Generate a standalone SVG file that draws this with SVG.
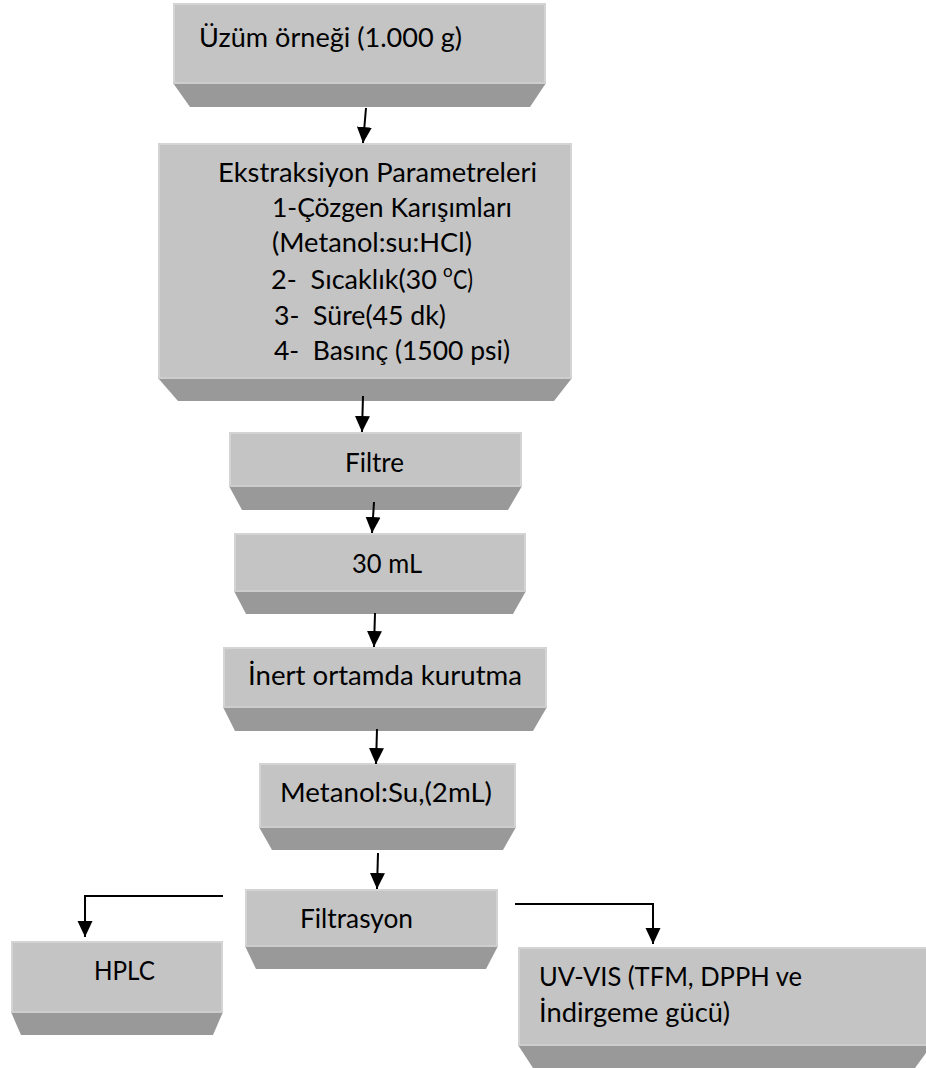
<svg xmlns="http://www.w3.org/2000/svg" width="926" height="1068" viewBox="0 0 926 1068">
<style>
.face{fill:#c4c4c4}
.bevel{fill:#999999}
.hl{fill:none;stroke:#d4d4d4;stroke-width:2}
.sep{stroke:#cdcdcd;stroke-width:2}
text{font-family:Lato,"Open Sans","Liberation Sans",sans-serif;font-size:27.5px;fill:#000000}
.con{fill:none;stroke:#000000;stroke-width:2}
</style>
<defs>
<marker id="ah" markerUnits="userSpaceOnUse" markerWidth="16" markerHeight="17" refX="16" refY="7.5" orient="auto" viewBox="0 0 16 15">
<path d="M0,0 L16,7.5 L0,15 Z" fill="#000000"/>
</marker>
</defs>
<rect width="926" height="1068" fill="#ffffff"/>

<g id="n1">
<polygon class="bevel" points="173,83 546,83 530,107 190,107"/>
<rect class="face" x="173" y="3" width="373" height="80"/>
<polyline class="hl" points="174,83 174,4 545,4 545,83"/>
<line class="sep" x1="173" y1="83" x2="546" y2="83"/>
<text x="199" y="47" textLength="263" lengthAdjust="spacingAndGlyphs">Üzüm örneği (1.000 g)</text>
</g>

<g id="n2">
<polygon class="bevel" points="158,378 572,378 554,401 178,401"/>
<rect class="face" x="158" y="143" width="414" height="235"/>
<polyline class="hl" points="159,378 159,144 571,144 571,378"/>
<line class="sep" x1="158" y1="378" x2="572" y2="378"/>
<text x="218" y="182" textLength="319" lengthAdjust="spacingAndGlyphs">Ekstraksiyon Parametreleri</text>
<text x="272" y="217" textLength="240" lengthAdjust="spacingAndGlyphs">1-Çözgen Karışımları</text>
<text x="272" y="252" textLength="200" lengthAdjust="spacingAndGlyphs">(Metanol:su:HCl)</text>
<text x="271" y="289" textLength="166" lengthAdjust="spacingAndGlyphs" xml:space="preserve">2-  Sıcaklık(30</text>
<text x="443" y="277" style="font-size:17px">o</text>
<text x="453" y="289" textLength="20" lengthAdjust="spacingAndGlyphs">C)</text>
<text x="274" y="325" textLength="172" lengthAdjust="spacingAndGlyphs" xml:space="preserve">3-  Süre(45 dk)</text>
<text x="274" y="360" textLength="236" lengthAdjust="spacingAndGlyphs" xml:space="preserve">4-  Basınç (1500 psi)</text>
</g>

<g id="n3">
<polygon class="bevel" points="229,486 522,486 508,510 242,510"/>
<rect class="face" x="229" y="432" width="293" height="54"/>
<polyline class="hl" points="230,486 230,433 521,433 521,486"/>
<line class="sep" x1="229" y1="486" x2="522" y2="486"/>
<text x="345" y="472" textLength="59" lengthAdjust="spacingAndGlyphs">Filtre</text>
</g>

<g id="n4">
<polygon class="bevel" points="234,591 526,591 513,614 246,614"/>
<rect class="face" x="234" y="533" width="292" height="58"/>
<polyline class="hl" points="235,591 235,534 525,534 525,591"/>
<line class="sep" x1="234" y1="591" x2="526" y2="591"/>
<text x="352" y="573" textLength="70" lengthAdjust="spacingAndGlyphs">30 mL</text>
</g>

<g id="n5">
<polygon class="bevel" points="223,707 547,707 533,731 235,731"/>
<rect class="face" x="223" y="647" width="324" height="60"/>
<polyline class="hl" points="224,707 224,648 546,648 546,707"/>
<line class="sep" x1="223" y1="707" x2="547" y2="707"/>
<text x="248" y="685" textLength="274" lengthAdjust="spacingAndGlyphs">İnert ortamda kurutma</text>
</g>

<g id="n6">
<polygon class="bevel" points="259,827 516,827 503,850 272,850"/>
<rect class="face" x="259" y="763" width="257" height="64"/>
<polyline class="hl" points="260,827 260,764 515,764 515,827"/>
<line class="sep" x1="259" y1="827" x2="516" y2="827"/>
<text x="280" y="802" textLength="212" lengthAdjust="spacingAndGlyphs">Metanol:Su,(2mL)</text>
</g>

<g id="n7">
<polygon class="bevel" points="245,946 498,946 486,969 256,969"/>
<rect class="face" x="245" y="889" width="253" height="57"/>
<polyline class="hl" points="246,946 246,890 497,890 497,946"/>
<line class="sep" x1="245" y1="946" x2="498" y2="946"/>
<text x="300" y="928" textLength="113" lengthAdjust="spacingAndGlyphs">Filtrasyon</text>
</g>

<g id="n8">
<polygon class="bevel" points="11,1012 223,1012 213,1035 21,1035"/>
<rect class="face" x="11" y="941" width="212" height="71"/>
<polyline class="hl" points="12,1012 12,942 222,942 222,1012"/>
<line class="sep" x1="11" y1="1012" x2="223" y2="1012"/>
<text x="94" y="980" textLength="61" lengthAdjust="spacingAndGlyphs">HPLC</text>
</g>

<g id="n9">
<polygon class="bevel" points="518,1045 932,1045 915,1068 533,1068"/>
<rect class="face" x="518" y="947" width="414" height="98"/>
<polyline class="hl" points="519,1045 519,948 931,948"/>
<line class="sep" x1="518" y1="1045" x2="932" y2="1045"/>
<text x="539" y="986" textLength="263" lengthAdjust="spacingAndGlyphs">UV-VIS (TFM, DPPH ve</text>
<text x="539" y="1022" textLength="191" lengthAdjust="spacingAndGlyphs">İndirgeme gücü)</text>
</g>

<g id="connectors">
<line class="con" x1="366" y1="108" x2="363" y2="143" marker-end="url(#ah)"/>
<line class="con" x1="363" y1="396" x2="362" y2="432" marker-end="url(#ah)"/>
<line class="con" x1="374" y1="502" x2="372" y2="533" marker-end="url(#ah)"/>
<line class="con" x1="375" y1="613" x2="374" y2="647" marker-end="url(#ah)"/>
<line class="con" x1="377" y1="729" x2="376" y2="764" marker-end="url(#ah)"/>
<line class="con" x1="378" y1="853" x2="377" y2="889" marker-end="url(#ah)"/>
<polyline class="con" points="223,896 85,896 85,937" marker-end="url(#ah)"/>
<polyline class="con" points="515,904 653,904 653,944" marker-end="url(#ah)"/>
</g>
</svg>
